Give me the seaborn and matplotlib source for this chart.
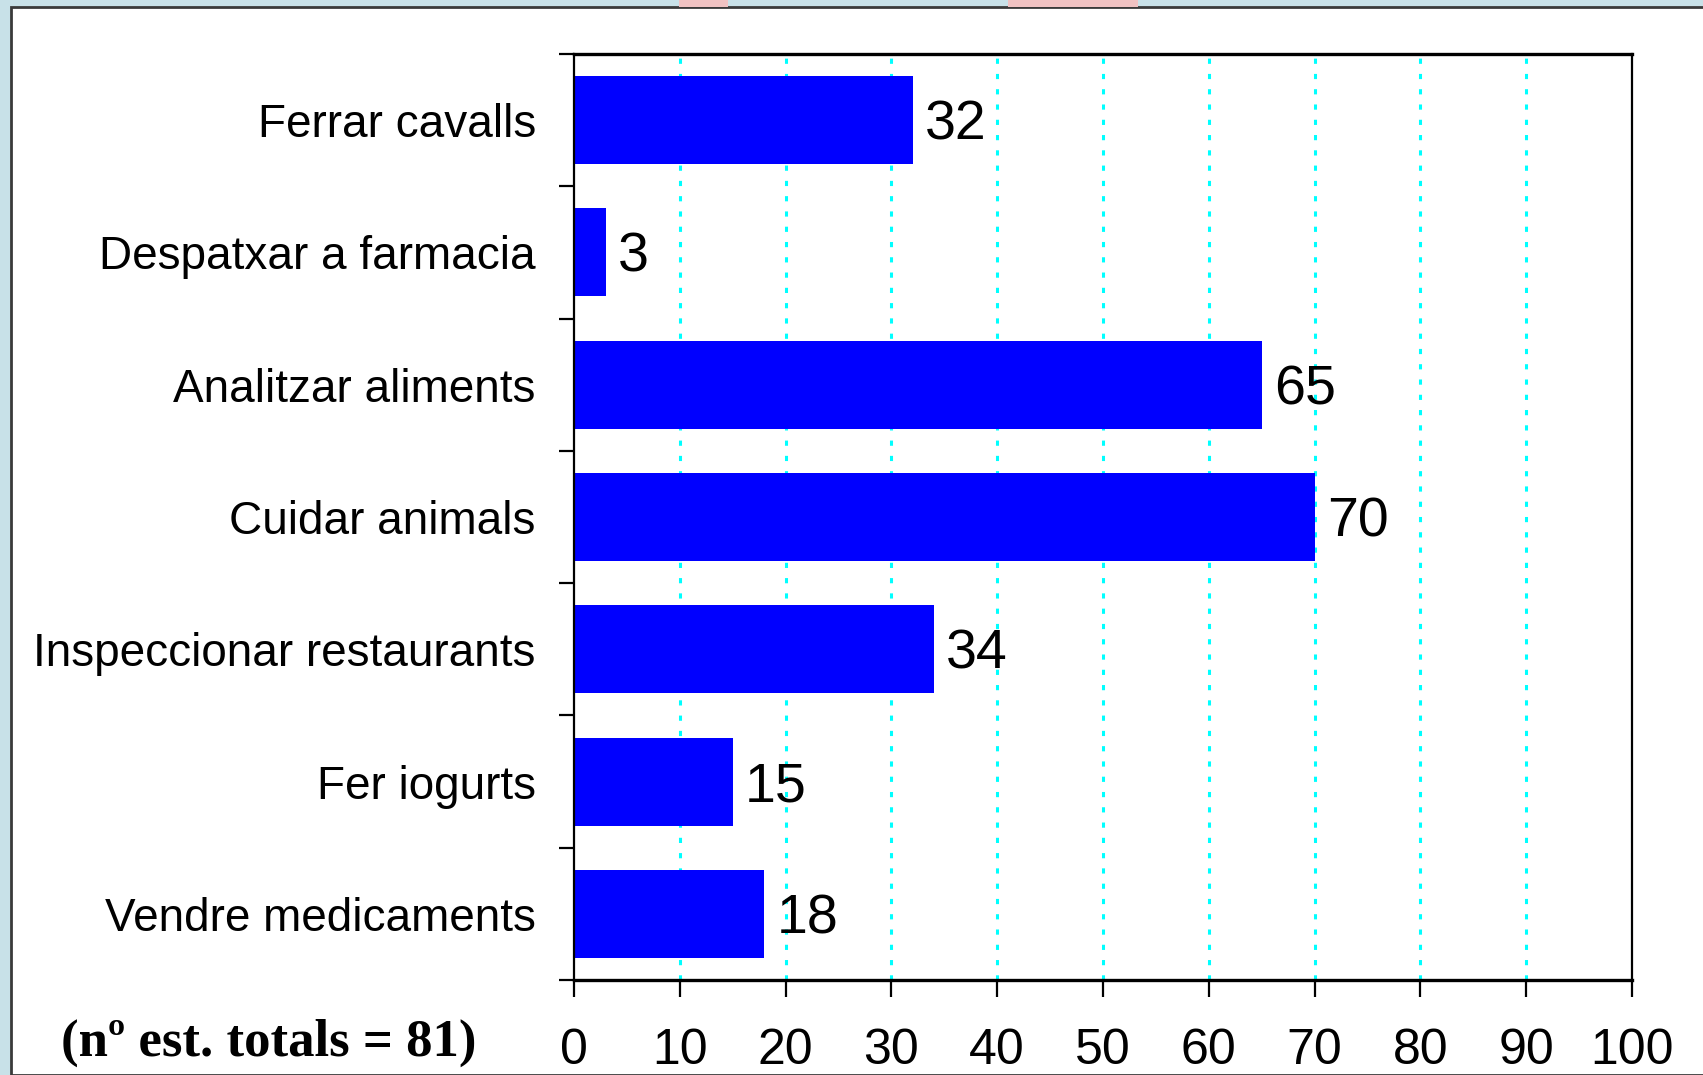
import matplotlib
matplotlib.use("Agg")
import matplotlib.pyplot as plt
import seaborn as sns
import pandas as pd
from matplotlib.patches import Rectangle

categories = ["Ferrar cavalls", "Despatxar a farmacia", "Analitzar aliments",
              "Cuidar animals", "Inspeccionar restaurants", "Fer iogurts",
              "Vendre medicaments"]
values = [32, 3, 65, 70, 34, 15, 18]
xticks = [0, 10, 20, 30, 40, 50, 60, 70, 80, 90, 100]
note = "(nº est. totals = 81)"

sns.set_theme(style="white")
plt.rcParams['font.family'] = ['Liberation Sans', 'DejaVu Sans']

W, H = 1703, 1075
fig = plt.figure(figsize=(W / 100, H / 100), dpi=100)
fig.patch.set_facecolor('#c8e1e8')

# white panel with dark edge (left/top)
fig.patches.append(Rectangle((11 / W, 0), 1 - 11 / W + 0.01, 1 - 7 / H,
                             transform=fig.transFigure, facecolor='white',
                             edgecolor='#3a3a3a', linewidth=2, zorder=-5))
for x0, x1 in [(679, 728), (1008, 1138)]:
    fig.patches.append(Rectangle((x0 / W, 1 - 7 / H), (x1 - x0) / W, 7 / H,
                                 transform=fig.transFigure, facecolor='#f0c2c2',
                                 edgecolor='none', zorder=-4))

ax = fig.add_axes([574 / W, 1 - 980 / H, (1632 - 574) / W, (980 - 54) / H])
ax.set_facecolor('none')
ax.set_zorder(2)

df = pd.DataFrame({"cat": categories, "val": values})
sns.barplot(data=df, x="val", y="cat", orient="h", color="#0000ff",
            saturation=1, width=0.665, ax=ax, zorder=3)
for p in ax.patches:
    p.set_edgecolor('none')

ax.set_xlim(0, 100)
ax.set_ylim(len(categories) - 0.5, -0.5)
ax.set_xticks(xticks)
ax.set_xticklabels([str(t) for t in xticks])
ax.set_xlabel("")
ax.set_ylabel("")

# category boundary ticks on y
ax.set_yticks([i - 0.5 for i in range(len(categories) + 1)], minor=False)
ax.set_yticklabels([])
ax.set_yticks(list(range(len(categories))), minor=True)
ax.set_yticklabels(categories, minor=True)
ax.tick_params(axis='y', which='major', length=11, width=1.6, color='black',
               direction='out', left=True)
ax.tick_params(axis='y', which='minor', length=0, pad=27.5, labelsize=33,
               labelcolor='black', left=True)
ax.tick_params(axis='x', length=12.5, width=1.6, color='black', direction='out',
               pad=22, labelsize=36, labelcolor='black', bottom=True)

# grid
for t in xticks[1:]:
    ax.axvline(t, color='#00ffff', linewidth=2.2, linestyle=(0, (1.7, 3.3)), zorder=1)

for side in ['top', 'bottom']:
    ax.spines[side].set_linewidth(2.4)
    ax.spines[side].set_color('black')
for side in ['left', 'right']:
    ax.spines[side].set_linewidth(1.6)
    ax.spines[side].set_color('black')
for s in ax.spines.values():
    s.set_visible(True)
    s.set_zorder(5)

# value labels
for i, v in enumerate(values):
    ax.annotate(str(v), xy=(v, i), xytext=(9, -4), textcoords='offset points',
                va='center', ha='left', fontsize=40, color='black')

fig.text(269 / W, 1 - 1043 / H, note, ha='center', va='center', fontsize=38,
         fontweight='bold', family=['Liberation Serif', 'DejaVu Serif'], color='black')

fig.savefig("out.png", dpi=100, facecolor=fig.get_facecolor())
